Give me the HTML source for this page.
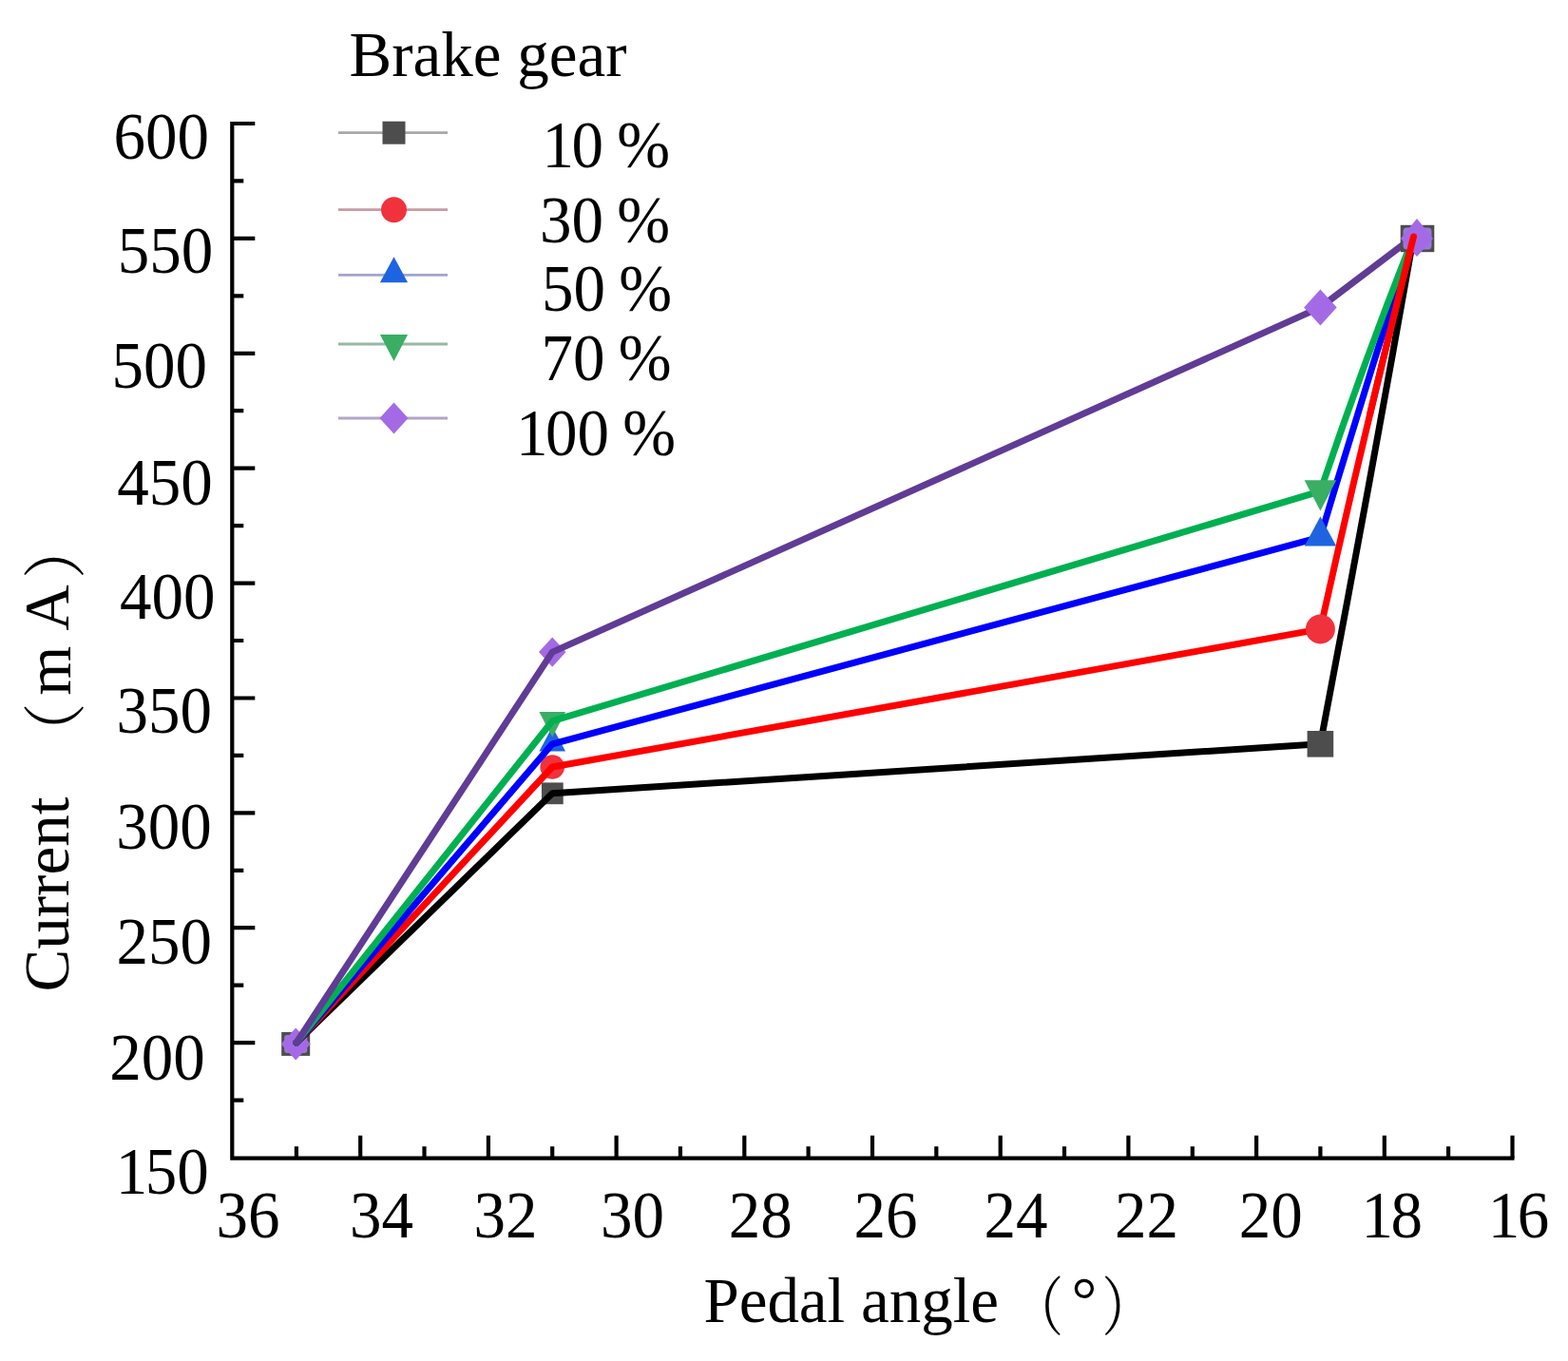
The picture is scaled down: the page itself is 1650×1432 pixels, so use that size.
<!DOCTYPE html>
<html><head><meta charset="utf-8"><style>
html,body{margin:0;padding:0;background:#fff;}
svg{display:block;}
text{font-family:"Liberation Serif","Noto Serif CJK SC",serif;font-size:67px;fill:#000;}
text.b{font-size:67px;}
text.deg{font-family:"Liberation Serif","Noto Serif CJK SC",serif;font-size:67px;}
text.cjk{font-family:"Liberation Serif","Noto Serif CJK SC",serif;font-size:67px;}
</style></head><body>
<svg width="1650" height="1432" viewBox="0 0 1650 1432">
<rect width="1650" height="1432" fill="#fff"/>
<path d="M244.3 128 V1218.7 H1593.5" fill="none" stroke="#000" stroke-width="4.2"/>
<path d="M244.3 1157.6h12M244.3 1097.1h24M244.3 1036.7h12M244.3 976.2h24M244.3 915.8h12M244.3 855.3h24M244.3 794.9h12M244.3 734.5h24M244.3 674.0h12M244.3 613.6h24M244.3 553.1h12M244.3 492.7h24M244.3 432.2h12M244.3 371.8h24M244.3 311.3h12M244.3 250.9h24M244.3 190.4h12M244.3 130.0h24M311.9 1218.7v-12.5M379.2 1218.7v-24M446.5 1218.7v-12.5M513.9 1218.7v-24M581.2 1218.7v-12.5M648.6 1218.7v-24M715.9 1218.7v-12.5M783.3 1218.7v-24M850.6 1218.7v-12.5M918.0 1218.7v-24M985.3 1218.7v-12.5M1052.7 1218.7v-24M1120.0 1218.7v-12.5M1187.4 1218.7v-24M1254.8 1218.7v-12.5M1322.1 1218.7v-24M1389.4 1218.7v-12.5M1456.8 1218.7v-24M1524.1 1218.7v-12.5M1591.5 1218.7v-24" fill="none" stroke="#000" stroke-width="4.2"/>
<text transform="translate(119.5 167.4) scale(1 1.04)">600</text>
<text transform="translate(123.8 287.2) scale(1 1.04)">550</text>
<text transform="translate(117.6 407.5) scale(1 1.04)">500</text>
<text transform="translate(123.2 531.1) scale(1 1.04)">450</text>
<text transform="translate(125.9 650.9) scale(1 1.04)">400</text>
<text transform="translate(122.5 771.2) scale(1 1.04)">350</text>
<text transform="translate(122.2 893.2) scale(1 1.04)">300</text>
<text transform="translate(122.5 1013.5) scale(1 1.04)">250</text>
<text transform="translate(115.3 1135.6) scale(1 1.04)">200</text>
<text transform="translate(119.2 1256.0) scale(1 1.04)"><tspan dx="2.5">1</tspan><tspan dx="-2.5">50</tspan></text>
<text transform="translate(227.5 1302.0) scale(1 1.04)">36</text>
<text transform="translate(368.1 1302.0) scale(1 1.04)">34</text>
<text transform="translate(498.4 1302.0) scale(1 1.04)">32</text>
<text transform="translate(632.0 1302.0) scale(1 1.04)">30</text>
<text transform="translate(766.7 1302.0) scale(1 1.04)">28</text>
<text transform="translate(898.4 1302.0) scale(1 1.04)">26</text>
<text transform="translate(1035.5 1302.0) scale(1 1.04)">24</text>
<text transform="translate(1172.9 1302.0) scale(1 1.04)">22</text>
<text transform="translate(1303.7 1302.0) scale(1 1.04)">20</text>
<text transform="translate(1430.0 1302.0) scale(1 1.04)"><tspan dx="2.5">1</tspan><tspan dx="-2.5">8</tspan></text>
<text transform="translate(1563.2 1302.0) scale(1 1.04)"><tspan dx="2.5">1</tspan><tspan dx="-2.5">6</tspan></text>
<text transform="translate(367.5 80.2) scale(1 1.02)">Brake gear</text>
<text transform="translate(568.0 176.0) scale(1 1.04)"><tspan dx="2.5">1</tspan><tspan dx="-2.5">0</tspan> <tspan dx="-2.5">%</tspan></text>
<text transform="translate(568.0 254.9) scale(1 1.04)">30 <tspan dx="-2.5">%</tspan></text>
<text transform="translate(569.9 327.4) scale(1 1.04)">50 <tspan dx="-2.5">%</tspan></text>
<text transform="translate(569.4 400.2) scale(1 1.04)">70 <tspan dx="-2.5">%</tspan></text>
<text transform="translate(540.4 479.4) scale(1 1.04)"><tspan dx="2.5">1</tspan><tspan dx="-2.5">00</tspan> <tspan dx="-2.5">%</tspan></text>
<text transform="translate(740.4 1391.2) scale(1 1.02)">Pedal angle</text>
<text class="cjk" transform="translate(1064.8 1399.0) scale(0.81 1)">（</text>
<text class="deg" x="1127.5" y="1390.8">°</text>
<text class="cjk" transform="translate(1159.6 1398.8) scale(0.81 1)">）</text>
<g transform="translate(73.5 1043) rotate(-90)"><text x="-0.4" y="-1.3">Current</text><text class="cjk" transform="translate(240.0 8.1) scale(0.95 1)">（</text><text x="311.2" y="0.0">m</text><text x="379.3" y="-2.0">A</text><text class="cjk" transform="translate(434.1 8.1) scale(0.95 1)">）</text></g>
<line x1="356" y1="139.7" x2="471" y2="139.7" stroke="#a8a8a8" stroke-width="2.8"/>
<rect x="402.5" y="127.7" width="24.0" height="24.0" fill="#4d4d4d"/>
<line x1="356" y1="220.7" x2="471" y2="220.7" stroke="#c89aa4" stroke-width="2.8"/>
<circle cx="414.5" cy="220.7" r="13.5" fill="#f0323c"/>
<line x1="356" y1="289.3" x2="471" y2="289.3" stroke="#a0a6c8" stroke-width="2.8"/>
<path d="M414.5 270.3L429.1 297.3L399.9 297.3Z" fill="#1e64e0"/>
<line x1="356" y1="362" x2="471" y2="362" stroke="#98b8a4" stroke-width="2.8"/>
<path d="M414.5 380.0L429.1 352.0L399.9 352.0Z" fill="#3aae64"/>
<line x1="356" y1="440" x2="471" y2="440" stroke="#b4a4c8" stroke-width="2.8"/>
<path d="M414.5 423.5L429.5 440.0L414.5 456.5L399.5 440.0Z" fill="#a46ae6"/>
<rect x="296.2" y="1085.9" width="30" height="25" fill="#4d4d4d"/>
<rect x="299.2" y="1088.9" width="24" height="19" rx="3" fill="#9a78d8"/>
<path d="M311.2 1081.4L326.8 1098.4L311.2 1115.4L295.6 1098.4Z" fill="#a46ae6"/>
<rect x="569.9" y="823.4" width="22.8" height="22.8" fill="#4d4d4d"/><circle cx="581.2" cy="807.0" r="12.8" fill="#f0323c"/><path d="M581.2 764.8L595.1 790.4L567.4 790.4Z" fill="#1e64e0"/><path d="M581.2 775.7L595.1 749.1L567.4 749.1Z" fill="#3aae64"/><path d="M581.2 670.4L595.5 686.1L581.2 701.8L567.0 686.1Z" fill="#a46ae6"/>
<path d="M311.9 1097.1L581.2 834.8L1389.4 782.8Q1440.3 515.9 1487.5 249.0" fill="none" stroke="#000" stroke-width="7" stroke-linejoin="round" stroke-linecap="round"/>
<path d="M311.9 1097.1L581.2 807.0L1389.4 661.9Q1435.2 455.5 1487.5 249.0" fill="none" stroke="#f00" stroke-width="7" stroke-linejoin="round" stroke-linecap="round"/>
<path d="M311.9 1097.1L581.2 782.8L1389.4 565.2Q1436.5 407.1 1487.5 249.0" fill="none" stroke="#0000ff" stroke-width="7" stroke-linejoin="round" stroke-linecap="round"/>
<path d="M311.9 1097.1L581.2 758.6L1389.4 516.8Q1434.4 382.9 1487.5 249.0" fill="none" stroke="#00b050" stroke-width="7" stroke-linejoin="round" stroke-linecap="round"/>
<path d="M311.9 1097.1L581.2 686.1L1389.4 323.4Q1438.5 286.2 1487.5 249.0" fill="none" stroke="#603c96" stroke-width="7" stroke-linejoin="round" stroke-linecap="round"/>
<rect x="1375.6" y="769.0" width="27.6" height="27.6" fill="#4d4d4d"/><circle cx="1389.4" cy="661.9" r="15.5" fill="#f0323c"/><path d="M1389.4 543.4L1406.2 574.4L1372.7 574.4Z" fill="#1e64e0"/><path d="M1389.4 537.5L1406.2 505.3L1372.7 505.3Z" fill="#3aae64"/><path d="M1389.4 304.4L1406.7 323.4L1389.4 342.4L1372.2 323.4Z" fill="#a46ae6"/>
<rect x="1473.7" y="236.8" width="35.6" height="28.4" fill="#4d4d4d"/>
<rect x="1476.5" y="239.5" width="30" height="23" rx="4" fill="#9a78d8"/>
<path d="M1491.0 230.0L1508.0 251.0L1491.0 270.0L1474.0 251.0Z" fill="#a46ae6"/>
<path d="M1441.8 434.8Q1464.0 341.9 1487.5 249.0" fill="none" stroke="#f00" stroke-width="7" stroke-linecap="round"/>
</svg></body></html>
